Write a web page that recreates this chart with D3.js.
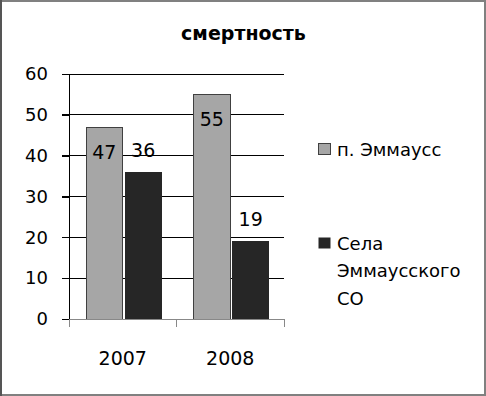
<!DOCTYPE html>
<html>
<head>
<meta charset="utf-8">
<script src="https://cdn.jsdelivr.net/npm/d3@7"></script>
<style>
  body { margin: 0; background: #fff; }
  svg { display: block; font-family: "DejaVu Sans", sans-serif; }
</style>
</head>
<body>
<svg id="chart" width="486" height="396"></svg>
<script>
// chart data
const years = ['2007', '2008'];
const seriesNames = ['п. Эммаусс', 'Села Эммаусского СО'];
const emmaus = [47, 55];
const villages = [36, 19];
const yTicks = [0, 10, 20, 30, 40, 50, 60];
const colors = ['#a6a6a6', '#262626'];

const FONT = '"DejaVu Sans", sans-serif';
const svg = d3.select('#chart');
const plot = { left: 69, right: 284, top: 74, bottom: 319 };

// frame
svg.append('rect').attr('x', 1).attr('y', 1).attr('width', 484).attr('height', 394)
  .attr('fill', '#fff').attr('stroke', '#808080').attr('stroke-width', 2);
svg.append('line').attr('x1', 1).attr('x2', 1).attr('y1', 0).attr('y2', 396)
  .attr('stroke', '#555').attr('stroke-width', 2);

// title
svg.append('text').attr('x', 243.5).attr('y', 40).attr('text-anchor', 'middle')
  .attr('font-size', 19).attr('font-weight', 'bold').text('смертность');

const x = d3.scaleBand().domain(years).range([plot.left, plot.right]);
const xInner = d3.scaleBand().domain([0, 1]).range([17, x.bandwidth() - 15]).paddingInner(0.055);
const y = d3.scaleLinear().domain([0, 60]).range([plot.bottom, plot.top]);

// gridlines
svg.append('g').selectAll('line').data(yTicks.slice(1)).join('line')
  .attr('x1', plot.left - 7).attr('x2', plot.right)
  .attr('y1', d => y(d)).attr('y2', d => y(d))
  .attr('stroke', '#000').attr('stroke-width', 1).attr('shape-rendering', 'crispEdges');

// y axis
const yAxis = svg.append('g').attr('transform', `translate(${plot.left},0)`)
  .call(d3.axisLeft(y).tickValues(yTicks).tickSize(7).tickPadding(14));
yAxis.select('.domain').attr('stroke', '#000');
yAxis.selectAll('.tick line').attr('stroke', '#000');
yAxis.selectAll('text').attr('font-size', 18).attr('font-family', FONT).attr('fill', '#000');
yAxis.selectAll('path, line').attr('shape-rendering', 'crispEdges');

// bars
const rows = years.map((yr, i) => ({ year: yr, vals: [emmaus[i], villages[i]] }));
const groups = svg.append('g').selectAll('g').data(rows).join('g')
  .attr('transform', d => `translate(${x(d.year)},0)`);

groups.selectAll('rect').data(d => d.vals.map((v, k) => ({ v, k }))).join('rect')
  .attr('x', d => xInner(d.k)).attr('width', xInner.bandwidth())
  .attr('y', d => y(d.v)).attr('height', d => y(0) - y(d.v))
  .attr('fill', d => colors[d.k])
  .attr('stroke', d => d.k === 0 ? '#404040' : 'none').attr('stroke-width', 1)
  .attr('shape-rendering', 'crispEdges');

// value labels (grey series sits inside the bar top, dark series above)
groups.selectAll('text').data(d => d.vals.map((v, k) => ({ v, k }))).join('text')
  .attr('x', d => xInner(d.k) + xInner.bandwidth() / 2)
  .attr('y', d => d.k === 0 ? y(d.v) + 31.5 : y(d.v) - 15.5)
  .attr('text-anchor', 'middle').attr('font-size', 19).attr('fill', '#000')
  .text(d => d.v);

// x axis
const xAxis = svg.append('g').attr('transform', `translate(0,${plot.bottom})`)
  .call(d3.axisBottom(x).tickSize(0).tickPadding(33));
xAxis.select('.domain').attr('stroke', '#888').attr('shape-rendering', 'crispEdges');
xAxis.selectAll('text').attr('font-size', 19).attr('font-family', FONT).attr('fill', '#000');
svg.append('g').selectAll('line').data([plot.left, x('2008'), plot.right]).join('line')
  .attr('x1', d => d).attr('x2', d => d).attr('y1', plot.bottom).attr('y2', plot.bottom + 8)
  .attr('stroke', '#888').attr('shape-rendering', 'crispEdges');

// legend
const legend = [
  { lines: ['п. Эммаусс'], top: 143 },
  { lines: ['Села', 'Эммаусского', 'СО'], top: 237 }
];
const lg = svg.append('g').selectAll('g').data(legend).join('g');
lg.append('rect').attr('x', 318.5).attr('y', d => d.top + 0.5).attr('width', 12).attr('height', 11)
  .attr('fill', (d, i) => colors[i]).attr('stroke', (d, i) => i === 0 ? '#404040' : 'none');
lg.selectAll('text').data(d => d.lines.map((t, j) => ({ t, j, top: d.top }))).join('text')
  .attr('x', 337).attr('y', d => d.top + 12.5 + d.j * 27.5)
  .attr('font-size', 18).attr('fill', '#000').text(d => d.t);
</script>
</body>
</html>
